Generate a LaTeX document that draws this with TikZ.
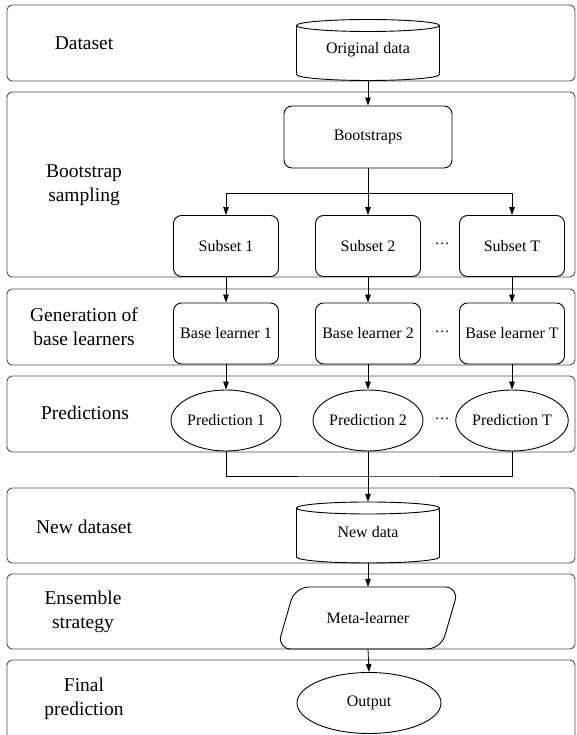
\documentclass[tikz,border=0pt]{standalone}
\usepackage{fontspec}
\setmainfont{Liberation Serif}
\usetikzlibrary{arrows.meta,shapes.geometric,calc}

\tikzset{
  band/.style={draw=black!70, line width=0.9pt, rounded corners=5pt},
  lab/.style={align=center, font=\fontsize{19.5}{24}\selectfont},
  box/.style={draw, line width=0.9pt, rounded corners=8pt, minimum width=105pt, minimum height=61pt, inner sep=0pt, font=\fontsize{16}{19}\selectfont},
  oval/.style={draw, line width=0.9pt, ellipse, minimum width=105pt, minimum height=61pt, inner sep=0pt, font=\fontsize{16}{19}\selectfont},
  store/.style={minimum width=143pt, minimum height=61pt, inner sep=0pt, font=\fontsize{16}{19}\selectfont},
  dotsn/.style={inner sep=0pt, font=\fontsize{15}{18}\selectfont},
  arr/.style={line width=0.8pt, -{Triangle[length=8pt,width=5.5pt]}},
  ln/.style={line width=0.8pt}
}

\begin{document}
\begin{tikzpicture}[x=1pt,y=1pt]
\useasboundingbox (0,0) rectangle (576,735);
% bands
\draw[band] (7,730) rectangle (575,654);
\draw[band] (7,643) rectangle (575,458);
\draw[band] (7,446) rectangle (575,370);
\draw[band] (7,359) rectangle (575,283);
\draw[band] (7,247) rectangle (575,172);
\draw[band] (7,161) rectangle (575,86);
\draw[band] (7,75) rectangle (575,-20);
% stage labels
\node[lab] (lData) at (84,692) {Dataset};
\node[lab] (lBoot) at (84,550) {Bootstrap\\sampling};
\node[lab] (lGen) at (84,408) {Generation of\\base learners};
\node[lab] (lPred) at (85,322) {Predictions};
\node[lab] (lNew) at (84,208) {New dataset};
\node[lab] (lEns) at (83,123) {Ensemble\\strategy};
\node[lab] (lFin) at (84,36) {Final\\prediction};
% original data
\node[store] (orig) at (368,685) {Original data};
\draw[line width=0.9pt] (368,709.5) ellipse [x radius=71.5, y radius=6];
\draw[line width=0.9pt] (296.5,709.5) -- (296.5,660.5) arc [start angle=180, end angle=360, x radius=71.5, y radius=6] -- (439.5,709.5);
% bootstraps
\node[box, minimum width=168pt, minimum height=62pt] (boot) at (368,598) {Bootstraps};
\node[box] (sub1) at (226,489) {Subset 1};
\node[box] (sub2) at (368,489) {Subset 2};
\node[box] (subT) at (512,489) {Subset T};
\node[dotsn] (dots1) at (442,489) {\raisebox{4pt}{…}};
% base learners
\node[box] (base1) at (226,401.5) {Base learner 1};
\node[box] (base2) at (368,401.5) {Base learner 2};
\node[box] (baseT) at (512,401.5) {Base learner T};
\node[dotsn] (dots2) at (442,401.5) {\raisebox{4pt}{…}};
% predictions
\node[oval] (pred1) at (226,314.5) {Prediction 1};
\node[oval] (pred2) at (368,314.5) {Prediction 2};
\node[oval] (predT) at (512,314.5) {Prediction T};
\node[dotsn] (dots3) at (442,314.5) {\raisebox{4pt}{…}};
% new data
\node[store] (newd) at (368,202.5) {New data};
\draw[line width=0.9pt] (368,227) ellipse [x radius=71.5, y radius=6];
\draw[line width=0.9pt] (296.5,227) -- (296.5,178) arc [start angle=180, end angle=360, x radius=71.5, y radius=6] -- (439.5,227);
% meta-learner
\node[minimum width=150pt, minimum height=62pt, inner sep=0pt, font=\fontsize{16}{19}\selectfont] (meta) at (368,117) {Meta-learner};
\draw[line width=0.9pt, rounded corners=14pt] (295,148) -- (459,148) -- (441,86) -- (277,86) -- cycle;
% output
\node[oval, minimum width=144pt] (out) at (369,32) {Output};
% connectors
\coordinate (split) at (368,542);
\coordinate (join) at (368,259);
\draw[arr] (orig.south) -- (boot.north);
\draw[arr] (boot.south) -- (sub2.north);
\draw[arr] (split) -| (sub1.north);
\draw[arr] (split) -| (subT.north);
\draw[arr] (sub1) -- (base1);
\draw[arr] (sub2) -- (base2);
\draw[arr] (subT) -- (baseT);
\draw[arr] (base1) -- (pred1);
\draw[arr] (base2) -- (pred2);
\draw[arr] (baseT) -- (predT);
\draw[ln] (pred1.south) |- (join) -| (predT.south);
\draw[arr] (pred2.south) -- (newd.north);
\draw[arr] (newd.south) -- (meta.north);
\draw[arr] (meta.south) -- (out.north);
\end{tikzpicture}
\end{document}
